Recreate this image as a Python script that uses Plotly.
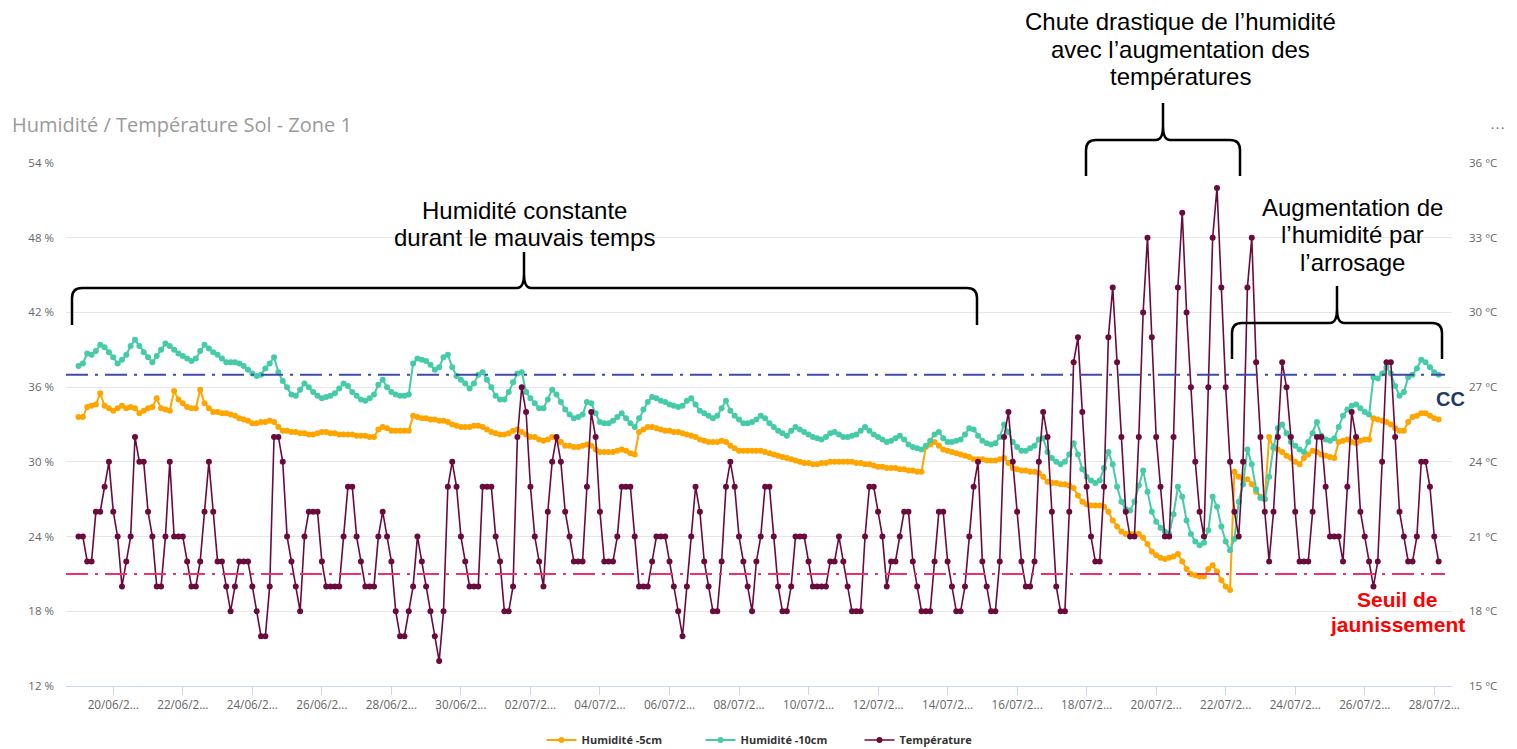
import plotly.graph_objects as go
import pandas as pd

# ---------------- DATA (3-hour samples from 19/06 00:00) ----------------
start_time = "2023-06-19 00:00"

humidity_5cm = [
    33.6, 33.6, 34.4, 34.5, 34.6, 35.5, 34.5, 34.3,
    34.1, 34.3, 34.5, 34.3, 34.4, 34.3, 33.9, 34.1,
    34.3, 34.4, 35.1, 34.3, 34.2, 34.1, 35.7, 35.0,
    34.7, 34.4, 34.3, 34.3, 35.8, 34.7, 34.3, 34.0,
    34.0, 33.9, 33.9, 33.8, 33.7, 33.5, 33.4, 33.3,
    33.1, 33.1, 33.2, 33.2, 33.3, 33.2, 32.8, 32.5,
    32.5, 32.4, 32.4, 32.3, 32.3, 32.2, 32.2, 32.3,
    32.4, 32.4, 32.3, 32.3, 32.2, 32.2, 32.2, 32.2,
    32.1, 32.1, 32.1, 32.0, 32.0, 32.6, 32.8, 32.7,
    32.5, 32.5, 32.5, 32.5, 32.5, 33.7, 33.6, 33.5,
    33.5, 33.4, 33.4, 33.3, 33.3, 33.2, 33.0, 32.9,
    32.8, 32.8, 32.8, 32.9, 32.9, 32.8, 32.6, 32.4,
    32.3, 32.2, 32.2, 32.3, 32.5, 32.6, 32.4, 32.2,
    32.0, 32.0, 31.8, 31.7, 31.8, 32.0, 31.9, 31.6,
    31.3, 31.3, 31.2, 31.2, 31.3, 31.4, 31.3, 31.0,
    30.8, 30.8, 30.8, 30.8, 30.9, 31.0, 30.9, 30.7,
    30.6, 32.4, 32.6, 32.8, 32.8, 32.7, 32.6, 32.5,
    32.5, 32.4, 32.4, 32.3, 32.2, 32.1, 32.0, 31.8,
    31.7, 31.6, 31.6, 31.6, 31.7, 31.6, 31.3, 31.1,
    30.9, 30.9, 30.9, 30.9, 30.9, 30.9, 30.8, 30.7,
    30.6, 30.5, 30.4, 30.3, 30.2, 30.1, 30.0, 29.9,
    29.9, 29.8, 29.8, 29.9, 29.9, 30.0, 30.0, 30.0,
    30.0, 30.0, 30.0, 29.9, 29.9, 29.8, 29.8, 29.7,
    29.6, 29.6, 29.5, 29.5, 29.5, 29.4, 29.4, 29.3,
    29.3, 29.2, 29.2, 31.2, 31.4, 31.6, 31.3, 31.0,
    30.9, 30.8, 30.7, 30.6, 30.5, 30.4, 30.2, 30.2,
    30.2, 30.1, 30.1, 30.1, 30.2, 30.3, 29.9, 29.5,
    29.4, 29.3, 29.3, 29.2, 29.2, 29.1, 28.8, 28.4,
    28.3, 28.3, 28.2, 28.2, 28.1, 27.9, 27.3, 26.8,
    26.6, 26.5, 26.5, 26.5, 26.4, 26.0, 25.3, 24.8,
    24.4, 24.2, 24.2, 24.2, 24.2, 23.9, 23.4, 22.8,
    22.5, 22.3, 22.2, 22.3, 22.4, 22.6, 22.0, 21.4,
    21.0, 20.9, 20.8, 20.8, 21.4, 21.7, 21.2, 20.5,
    20.0, 19.7, 29.2, 28.8, 28.6, 28.6, 28.2, 27.6,
    27.2, 27.0, 32.0, 31.1, 31.0, 30.8, 30.5, 30.3,
    30.0, 29.8, 30.3, 30.6, 30.9, 30.8, 30.6, 30.5,
    30.4, 30.3, 31.6, 31.7, 31.8, 31.6, 31.5, 31.7,
    31.8, 31.8, 33.5, 33.4, 33.3, 33.2, 33.0, 32.7,
    32.5, 32.5, 33.2, 33.6, 33.7, 33.9, 33.9, 33.7,
    33.5, 33.4,
]

humidity_10cm = [
    37.7, 37.9, 38.7, 38.6, 38.9, 39.4, 39.2, 38.8,
    38.4, 37.9, 38.2, 38.6, 39.3, 39.8, 39.3, 38.8,
    38.4, 38.0, 38.5, 39.0, 39.5, 39.3, 39.0, 38.7,
    38.5, 38.3, 38.1, 38.3, 38.9, 39.4, 39.1, 38.8,
    38.6, 38.3, 38.0, 38.0, 38.0, 37.9, 37.7, 37.4,
    37.1, 36.9, 37.0, 37.5, 37.9, 38.4, 37.2, 36.5,
    36.0, 35.4, 35.3, 35.8, 36.3, 36.0, 35.6, 35.3,
    35.1, 35.2, 35.3, 35.5, 35.9, 36.3, 36.1, 35.6,
    35.3, 35.0, 34.9, 35.1, 35.4, 36.2, 36.6, 36.0,
    35.6, 35.4, 35.3, 35.3, 35.4, 37.9, 38.3, 38.2,
    38.1, 37.8, 37.4, 37.6, 38.4, 38.6, 37.6, 36.9,
    36.6, 36.3, 35.9, 36.3, 37.0, 37.2, 36.6, 36.0,
    35.3, 35.0, 35.0, 35.6, 36.4, 37.1, 37.2, 35.6,
    35.1, 34.7, 34.3, 34.3, 35.0, 35.8, 35.4, 34.8,
    34.2, 33.8, 33.5, 33.6, 33.8, 34.8, 34.7, 33.9,
    33.2, 33.1, 33.1, 33.3, 33.6, 33.9, 33.5, 33.1,
    32.8, 33.5, 34.2, 34.8, 35.2, 35.1, 34.9, 34.8,
    34.6, 34.5, 34.4, 34.5, 34.9, 35.1, 34.6, 34.1,
    33.9, 33.7, 33.5, 33.7, 34.3, 34.9, 34.1, 33.7,
    33.4, 33.1, 33.1, 33.2, 33.4, 33.7, 33.5, 33.1,
    32.8, 32.5, 32.3, 32.1, 32.5, 32.8, 32.6, 32.4,
    32.2, 32.0, 31.9, 31.8, 32.0, 32.3, 32.4, 32.2,
    32.0, 32.0, 32.1, 32.2, 32.5, 32.8, 32.5, 32.2,
    32.0, 31.8, 31.6, 31.7, 31.9, 32.1, 31.8, 31.4,
    31.2, 31.1, 31.0, 31.3, 31.7, 32.2, 32.4, 31.9,
    31.6, 31.6, 31.7, 31.8, 32.2, 32.7, 32.6, 32.1,
    31.7, 31.5, 31.4, 31.5, 32.0, 33.0, 32.4, 31.6,
    31.2, 30.9, 30.9, 31.1, 31.3, 31.8, 31.9, 30.8,
    30.3, 30.0, 29.8, 30.0, 30.6, 31.5, 30.6, 29.4,
    28.8, 28.5, 28.3, 28.5, 29.5, 30.8, 29.8, 28.0,
    26.8, 26.2, 26.1, 26.8, 28.1, 29.3, 27.6, 26.0,
    25.2, 24.7, 24.4, 24.2, 25.8, 28.0, 27.2, 25.3,
    24.2, 23.6, 23.3, 23.5, 24.5, 27.2, 26.4, 24.8,
    23.6, 22.9, 23.8, 26.8, 28.2, 31.0, 29.8, 27.8,
    27.1, 27.0, 28.8, 31.2, 32.7, 33.0, 32.3, 31.6,
    31.3, 31.0, 30.8, 31.6, 32.3, 33.2, 32.1, 31.8,
    31.7, 31.9, 32.8, 33.7, 34.2, 34.5, 34.6, 34.3,
    34.0, 33.8, 36.8, 36.7, 37.1, 37.6, 37.1, 36.1,
    35.3, 35.6, 36.8, 37.0, 37.5, 38.2, 38.0, 37.6,
    37.2, 37.0,
]

temperature_c = [
    21, 21, 20, 20, 22, 22, 23, 24,
    22, 21, 19, 20, 21, 25, 24, 24,
    22, 21, 19, 19, 21, 24, 21, 21,
    21, 20, 19, 19, 20, 22, 24, 22,
    20, 20, 19, 18, 19, 20, 20, 20,
    19, 18, 17, 17, 19, 25, 25, 24,
    21, 20, 19, 18, 21, 22, 22, 22,
    20, 19, 19, 19, 19, 21, 23, 23,
    21, 20, 19, 19, 19, 21, 22, 21,
    20, 18, 17, 17, 18, 19, 21, 20,
    19, 18, 17, 16, 18, 23, 24, 23,
    21, 20, 19, 19, 19, 23, 23, 23,
    21, 20, 18, 18, 19, 25, 27, 26,
    23, 21, 20, 19, 22, 24, 25, 24,
    22, 21, 20, 20, 20, 23, 26, 25,
    22, 20, 20, 20, 21, 23, 23, 23,
    21, 19, 19, 19, 20, 21, 21, 21,
    20, 19, 18, 17, 19, 21, 23, 22,
    20, 19, 18, 18, 20, 23, 24, 23,
    21, 20, 19, 18, 20, 21, 23, 23,
    21, 19, 18, 18, 19, 21, 21, 21,
    20, 19, 19, 19, 19, 20, 20, 21,
    20, 19, 18, 18, 18, 21, 23, 23,
    22, 21, 19, 20, 20, 21, 22, 22,
    20, 19, 18, 18, 18, 20, 22, 22,
    20, 19, 18, 18, 19, 21, 23, 24,
    20, 19, 18, 18, 20, 25, 26, 24,
    22, 20, 19, 19, 20, 24, 26, 25,
    22, 19, 18, 18, 22, 28, 29, 26,
    23, 21, 20, 20, 23, 29, 31, 28,
    25, 22, 21, 21, 25, 30, 33, 29,
    25, 23, 21, 21, 25, 31, 34, 30,
    27, 24, 22, 21, 27, 33, 35, 31,
    27, 24, 22, 21, 24, 31, 33, 28,
    25, 22, 20, 22, 25, 28, 27, 25,
    22, 20, 20, 20, 22, 25, 25, 23,
    21, 21, 21, 20, 23, 26, 25, 22,
    21, 20, 19, 20, 24, 28, 28, 25,
    22, 21, 20, 20, 21, 24, 24, 23,
    21, 20,
]

tick_dates = ["2023-06-20", "2023-06-22", "2023-06-24", "2023-06-26", "2023-06-28",
              "2023-06-30", "2023-07-02", "2023-07-04", "2023-07-06", "2023-07-08",
              "2023-07-10", "2023-07-12", "2023-07-14", "2023-07-16", "2023-07-18",
              "2023-07-20", "2023-07-22", "2023-07-24", "2023-07-26", "2023-07-28"]
tick_labels = ["20/06/2...", "22/06/2...", "24/06/2...", "26/06/2...", "28/06/2...",
               "30/06/2...", "02/07/2...", "04/07/2...", "06/07/2...", "08/07/2...",
               "10/07/2...", "12/07/2...", "14/07/2...", "16/07/2...", "18/07/2...",
               "20/07/2...", "22/07/2...", "24/07/2...", "26/07/2...", "28/07/2..."]

cc_level = 37        # capacité au champ (%)
seuil_level = 21     # seuil de jaunissement (%)

series_names = ["Humidité -5cm", "Humidité -10cm", "Température"]
series_colors = ["#FFA500", "#45CBA8", "#6B0A3C"]

# ---------------- FIGURE ----------------
times = pd.date_range(start_time, periods=len(temperature_c), freq="3h")

# page offset of the plot div (browser body margin)
OFF = 8
W, H = 1517 - OFF, 749 - OFF
# plot area in page pixels
L, R, T, B = 66, 1452, 163, 686


def px(x):
    return (x - L) / (R - L)


def py(y):
    return (B - y) / (B - T)


fig = go.Figure()
fig.add_trace(go.Scatter(x=times, y=humidity_5cm, name=series_names[0], mode="lines+markers",
                         line=dict(color=series_colors[0], width=2),
                         marker=dict(color=series_colors[0], size=6), yaxis="y"))
fig.add_trace(go.Scatter(x=times, y=humidity_10cm, name=series_names[1], mode="lines+markers",
                         line=dict(color=series_colors[1], width=2),
                         marker=dict(color=series_colors[1], size=6), yaxis="y"))
fig.add_trace(go.Scatter(x=times, y=temperature_c, name=series_names[2], mode="lines+markers",
                         line=dict(color=series_colors[2], width=1.6),
                         marker=dict(color=series_colors[2], size=6), yaxis="y2"))

t0 = pd.Timestamp(start_time)
x_range = [t0 + pd.Timedelta(days=-0.36), t0 + pd.Timedelta(days=39.51)]

shapes = [
    dict(type="line", xref="paper", yref="y", x0=0, x1=0.995, y0=cc_level, y1=cc_level,
         line=dict(color="#3F4AA8", width=2, dash="22px,7px,3px,7px"), layer="above"),
    dict(type="line", xref="paper", yref="y", x0=0, x1=0.995, y0=seuil_level, y1=seuil_level,
         line=dict(color="#F0306A", width=2, dash="22px,7px,3px,7px"), layer="above"),
]


def brace(x0, x1, yb, ye, xt, yt, r=10, rt=7):
    p = (f"M {px(x0)},{py(ye)} L {px(x0)},{py(yb + r)} "
         f"Q {px(x0)},{py(yb)} {px(x0 + r)},{py(yb)} "
         f"L {px(xt - rt)},{py(yb)} Q {px(xt)},{py(yb)} {px(xt)},{py(yb - 2 * rt)} "
         f"L {px(xt)},{py(yt)} L {px(xt)},{py(yb - 2 * rt)} "
         f"Q {px(xt)},{py(yb)} {px(xt + rt)},{py(yb)} "
         f"L {px(x1 - r)},{py(yb)} Q {px(x1)},{py(yb)} {px(x1)},{py(yb + r)} "
         f"L {px(x1)},{py(ye)}")
    return dict(type="path", path=p, xref="paper", yref="paper",
                line=dict(color="black", width=2.5), layer="above")


shapes.append(brace(72, 977, 288, 325, 524, 252))
shapes.append(brace(1086, 1240, 140, 176, 1163, 103))
shapes.append(brace(1232, 1442, 323, 359, 1337, 286))

ARIAL = "Liberation Sans, Arial"
annotations = []


def add_text(text, x, y, size, color="black", bold=False, anchor="center", family=ARIAL):
    annotations.append(dict(text=f"<b>{text}</b>" if bold else text, x=px(x), y=py(y),
                            xref="paper", yref="paper", xanchor=anchor, yanchor="middle",
                            showarrow=False, font=dict(family=family, size=size, color=color)))


add_text("Humidité / Température Sol - Zone 1", 10, 125, 20, color="#9A9A9A",
         anchor="left", family="Open Sans")
add_text("• • •", 1497, 128, 8, color="#777777", family="Open Sans")
add_text("Humidité constante", 524, 210, 24)
add_text("durant le mauvais temps", 524, 237, 24)
add_text("Chute drastique de l’humidité", 1180, 22, 24)
add_text("avec l’augmentation des", 1180, 49.5, 24)
add_text("températures", 1180, 77, 24)
add_text("Augmentation de", 1352, 207, 24)
add_text("l’humidité par", 1352, 234.5, 24)
add_text("l’arrosage", 1352, 262, 24)
add_text("CC", 1450, 399, 20, color="#1F3864", bold=True)
add_text("Seuil de", 1397, 599, 21, color="#FF0000", bold=True)
add_text("jaunissement", 1397, 624, 21, color="#FF0000", bold=True)

fig.update_layout(
    width=W, height=H,
    margin=dict(l=L - OFF, r=W - (R - OFF), t=T - OFF, b=H - (B - OFF), autoexpand=False),
    plot_bgcolor="white", paper_bgcolor="white",
    showlegend=True,
    legend=dict(orientation="h", x=px(780), xanchor="center", y=py(740), yanchor="middle",
                font=dict(family="Open Sans", size=11, color="#333333", weight="bold"),
                itemwidth=30, entrywidth=114, entrywidthmode="pixels"),
    xaxis=dict(type="date", range=x_range, tickvals=pd.to_datetime(tick_dates), ticktext=tick_labels,
               showgrid=False, showline=True, linecolor="#CCD6EB", linewidth=1,
               ticks="outside", ticklen=8, tickcolor="#CCD6EB",
               tickfont=dict(family="Open Sans", size=11.7, color="#666666"), zeroline=False),
    yaxis=dict(range=[12, 54], tick0=12, dtick=6, ticksuffix=" %", showgrid=True,
               gridcolor="#E6E6E6", gridwidth=1, zeroline=False, showline=False,
               ticklabelstandoff=11,
               tickfont=dict(family="Open Sans", size=11.5, color="#666666")),
    yaxis2=dict(range=[15, 36], tick0=15, dtick=3, ticksuffix=" °C", overlaying="y", side="right",
                showgrid=False, zeroline=False, showline=False, ticklabelstandoff=16,
                tickfont=dict(family="Open Sans", size=11.5, color="#666666")),
    shapes=shapes,
    annotations=annotations,
)

fig.write_html("out.html")
